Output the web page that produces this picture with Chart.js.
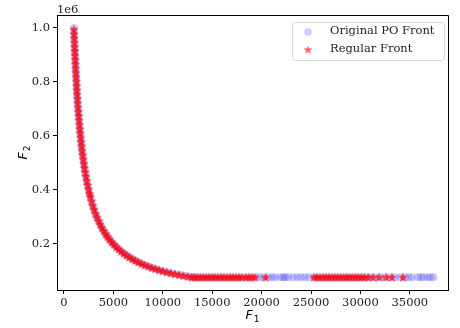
<!DOCTYPE html>
<html>
<head>
<meta charset="utf-8">
<script src="https://cdn.jsdelivr.net/npm/chart.js@4.4.1/dist/chart.umd.min.js"></script>
<style>
html, body { margin: 0; padding: 0; background: #fff; }
</style>
</head>
<body>
<canvas id="frontChart" width="460" height="328"></canvas>
<script>
// Original PO front (F1, F2)
const originalF1 = [
  1000, 1015, 1031, 1047, 1064, 1081, 1099, 1117, 1136, 1156, 1176, 1198, 1220, 1242, 1266, 1290,
  1316, 1342, 1370, 1399, 1429, 1460, 1493, 1527, 1563, 1600, 1639, 1681, 1724, 1770, 1818, 1869,
  1923, 1980, 2041, 2105, 2174, 2247, 2326, 2410, 2500, 2600, 2720, 2850, 2980, 3120, 3270, 3420,
  3580, 3750, 3930, 4110, 4300, 4500, 4710, 4930, 5160, 5400, 5650, 5910, 6180, 6460, 6750, 7050,
  7360, 7680, 8010, 8350, 8700, 9060, 9430, 9810, 10200, 10600, 11010, 11430, 11860, 12300, 12750, 13100,
  13300, 13700, 14100, 14500, 14900, 15300, 15800, 16200, 16700, 17100, 17600, 18000, 18500, 18900, 19400, 19800,
  20200, 20700, 21100, 21400, 21900, 22200, 22400, 22700, 23200, 23600, 24000, 24400, 24800, 25300, 25700, 26200,
  26600, 27000, 27500, 27900, 28400, 28800, 29300, 29700, 30200, 30600, 31000, 31500, 32000, 32500, 33000, 33500,
  34000, 34500, 34900, 35200, 35800, 36100, 36400, 36800, 37100, 37400
];
const originalF2 = [
  1000000, 985000, 970000, 955000, 940000, 925000, 910000, 895000, 880000, 865000, 850000, 835000, 820000, 805000, 790000, 775000,
  760000, 745000, 730000, 715000, 700000, 685000, 670000, 655000, 640000, 625000, 610000, 595000, 580000, 565000, 550000, 535000,
  520000, 505000, 490000, 475000, 460000, 445000, 430000, 415000, 400000, 384600, 367600, 350900, 335600, 320500, 305800, 292400,
  279300, 266700, 254500, 243300, 232600, 222200, 212300, 202800, 193800, 185200, 177000, 169200, 161800, 154800, 148100, 141800,
  135900, 130200, 124800, 119800, 114900, 110400, 106000, 101900, 98000, 94300, 90800, 87500, 84300, 81300, 78400, 77000,
  76900, 76900, 76900, 76900, 76900, 76900, 76900, 76900, 76900, 76900, 76900, 76900, 76900, 76900, 76900, 76900,
  76900, 76900, 76900, 76900, 76900, 76900, 76900, 76900, 76900, 76900, 76900, 76900, 76900, 76900, 76900, 76900,
  76900, 76900, 76900, 76900, 76900, 76900, 76900, 76900, 76900, 76900, 76900, 76900, 76900, 76900, 76900, 76900,
  76900, 76900, 76900, 76900, 76900, 76900, 76900, 76900, 76900, 76900
];

// Regular front (F1, F2)
const regularF1 = [
  1005, 1022, 1040, 1057, 1075, 1094, 1114, 1134, 1155, 1176, 1199, 1222, 1247, 1272, 1299, 1326,
  1355, 1385, 1416, 1449, 1484, 1520, 1558, 1597, 1639, 1684, 1730, 1779, 1832, 1887, 1946, 2008,
  2075, 2146, 2222, 2304, 2392, 2488, 2591, 2660, 2790, 2920, 3050, 3200, 3350, 3500, 3670, 3840,
  4020, 4210, 4400, 4600, 4820, 5040, 5280, 5520, 5780, 6040, 6320, 6600, 6900, 7200, 7520, 7840,
  8180, 8520, 8880, 9240, 9620, 10000, 10400, 10800, 11220, 11640, 12080, 12520, 12900,
  13200, 13500, 13800, 14100, 14400, 14700, 15000, 15300, 15600, 15900, 16200, 16500, 16800, 17100, 17400, 17700,
  18000, 18400, 18700, 19000, 19300, 20400, 25300, 25600, 25900, 26200, 26500, 26800, 27100, 27400, 27700, 28000,
  28300, 28600, 28900, 29200, 29500, 29800, 30100, 30400, 30800, 31300, 31900, 32600, 33200, 34300
];
const regularF2 = [
  995000, 978000, 962000, 946000, 930000, 914000, 898000, 882000, 866000, 850000, 834000, 818000, 802000, 786000, 770000, 754000,
  738000, 722000, 706000, 690000, 674000, 658000, 642000, 626000, 610000, 594000, 578000, 562000, 546000, 530000, 514000, 498000,
  482000, 466000, 450000, 434000, 418000, 402000, 386000, 375900, 358400, 342500, 327900, 312500, 298500, 285700, 272500, 260400,
  248800, 237500, 227300, 217400, 207500, 198400, 189400, 181200, 173000, 165600, 158200, 151500, 144900, 138900, 133000, 127600,
  122200, 117400, 112600, 108200, 104000, 100000, 96200, 92600, 89100, 85900, 82800, 79900, 77500,
  76900, 76900, 76900, 76900, 76900, 76900, 76900, 76900, 76900, 76900, 76900, 76900, 76900, 76900, 76900, 76900,
  76900, 76900, 76900, 76900, 76900, 76900, 76900, 76900, 76900, 76900, 76900, 76900, 76900, 76900, 76900, 76900,
  76900, 76900, 76900, 76900, 76900, 76900, 76900, 76900, 76900, 76900, 76900, 76900, 76900, 76900
];

// Tick labels
const xTicks = [0, 5000, 10000, 15000, 20000, 25000, 30000, 35000];
const yTicks = [200000, 400000, 600000, 800000, 1000000];

const tickFont = { family: 'DejaVu Serif', size: 11.5 };
const blueFill = 'rgba(0, 0, 255, 0.2)';
const redFill = 'rgba(255, 0, 0, 0.72)';

// filled 5-point star like matplotlib '*'
function makeStar(size, color) {
    const c = document.createElement('canvas');
    c.width = size; c.height = size;
    const g = c.getContext('2d');
    const cx = size / 2, cy = size / 2 + 0.4, R = size / 2, r = R * 0.45;
    g.fillStyle = color;
    g.beginPath();
    for (let i = 0; i < 10; i++) {
        const a = -Math.PI / 2 + i * Math.PI / 5;
        const rr = i % 2 ? r : R;
        g.lineTo(cx + rr * Math.cos(a), cy + rr * Math.sin(a));
    }
    g.closePath();
    g.fill();
    return c;
}
const starImg = makeStar(10, redFill);
const legendStar = makeStar(9, 'rgba(255, 0, 0, 0.6)');

function toPoints(xs, ys) {
    return xs.map((x, i) => ({ x: x, y: ys[i] }));
}

// F with subscript, italic like mathtext
function drawMathLabel(ctx, sub, x, y, rotate) {
    ctx.save();
    ctx.translate(x, y);
    if (rotate) ctx.rotate(-Math.PI / 2);
    ctx.fillStyle = '#000';
    ctx.textBaseline = 'alphabetic';
    ctx.font = 'italic 12.5px "DejaVu Sans"';
    const fw = ctx.measureText('F').width;
    ctx.font = '9px "DejaVu Sans"';
    const sw = ctx.measureText(sub).width;
    const start = -(fw + sw + 1) / 2;
    ctx.font = 'italic 12.5px "DejaVu Sans"';
    ctx.fillText('F', start, 4);
    ctx.font = '9px "DejaVu Sans"';
    ctx.fillText(sub, start + fw + 1, 7);
    ctx.restore();
}

const decorPlugin = {
    id: 'decor',
    afterDraw(chart) {
        const ctx = chart.ctx;
        const a = chart.chartArea;
        // top and right spines
        ctx.save();
        ctx.strokeStyle = '#000';
        ctx.lineWidth = 1;
        ctx.beginPath();
        ctx.moveTo(a.left, a.top + 0.5);
        ctx.lineTo(a.right + 0.5, a.top + 0.5);
        ctx.lineTo(a.right + 0.5, a.bottom);
        ctx.stroke();

        // offset text
        ctx.fillStyle = '#222';
        ctx.font = '11.5px "DejaVu Serif"';
        ctx.textAlign = 'left';
        ctx.textBaseline = 'alphabetic';
        ctx.fillText('1e6', a.left, 12.5);

        // legend box
        const lx = 292, ly = 22, lw = 152, lh = 38;
        ctx.beginPath();
        ctx.roundRect(lx + 0.5, ly + 0.5, lw, lh, 3);
        ctx.fillStyle = 'rgba(255,255,255,0.8)';
        ctx.fill();
        ctx.strokeStyle = '#d6d6d6';
        ctx.stroke();

        const ds = chart.data.datasets;
        ctx.beginPath();
        ctx.arc(308, 32, 3.8, 0, Math.PI * 2);
        ctx.fillStyle = blueFill;
        ctx.fill();
        ctx.drawImage(legendStar, 303.5, 45);
        ctx.fillStyle = '#222';
        ctx.font = '11.5px "DejaVu Serif"';
        ctx.textBaseline = 'middle';
        ctx.fillText(ds[0].label, 330, 31.5);
        ctx.fillText(ds[1].label, 330, 49);
        ctx.restore();

        drawMathLabel(ctx, '1', (a.left + a.right) / 2, 315, false);
        drawMathLabel(ctx, '2', 23, (a.top + a.bottom) / 2, true);
    }
};

const frontChart = new Chart(document.getElementById('frontChart'), {
    type: 'scatter',
    data: {
        datasets: [{
            label: 'Original PO Front',
            data: toPoints(originalF1, originalF2),
            backgroundColor: blueFill,
            borderWidth: 0,
            pointRadius: 4,
            pointStyle: 'circle',
            order: 1
        }, {
            label: 'Regular Front',
            data: toPoints(regularF1, regularF2),
            pointStyle: starImg,
            pointRadius: 4,
            order: 0
        }]
    },
    options: {
        responsive: false,
        animation: false,
        events: [],
        layout: { padding: { top: 15, right: 12, left: 0, bottom: 0 } },
        plugins: {
            legend: { display: false },
            tooltip: { enabled: false }
        },
        scales: {
            x: {
                type: 'linear',
                min: -708,
                max: 38866,
                afterBuildTicks: (scale) => { scale.ticks = xTicks.map(v => ({ value: v })); },
                afterFit: (scale) => { scale.height = 38; },
                ticks: { font: tickFont, color: '#222', padding: 2, maxRotation: 0, autoSkip: false, callback: (v) => String(v) },
                grid: { drawOnChartArea: false, drawTicks: true, tickLength: 4, color: '#000' },
                border: { display: true, color: '#000', width: 1 }
            },
            y: {
                type: 'linear',
                min: 29630,
                max: 1048000,
                afterBuildTicks: (scale) => { scale.ticks = yTicks.map(v => ({ value: v })); },
                afterFit: (scale) => { scale.width = 57; },
                ticks: { font: tickFont, color: '#222', padding: 3, autoSkip: false, callback: (v) => (v / 1e6).toFixed(1) },
                grid: { drawOnChartArea: false, drawTicks: true, tickLength: 4, color: '#000' },
                border: { display: true, color: '#000', width: 1 }
            }
        }
    },
    plugins: [decorPlugin]
});
</script>
</body>
</html>
